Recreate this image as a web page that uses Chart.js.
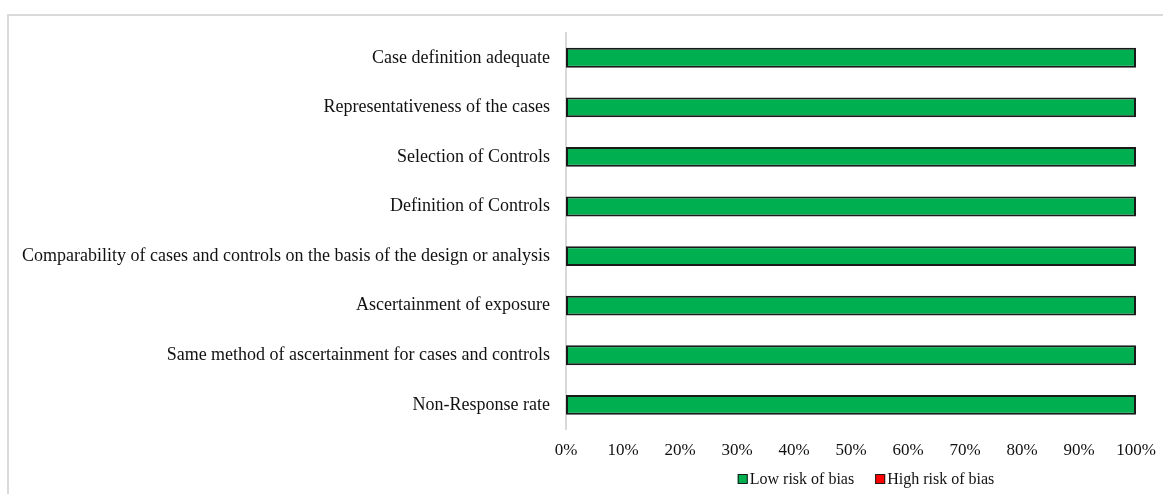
<!DOCTYPE html>
<html>
<head>
<meta charset="utf-8">
<script src="https://cdn.jsdelivr.net/npm/chart.js@4/dist/chart.umd.min.js"></script>
<style>
html,body{margin:0;padding:0;background:#fff;}
#wrap{position:relative;width:1164px;height:494px;overflow:hidden;}
#frame{position:absolute;left:7px;top:14px;width:1156px;height:520px;border-left:2px solid #d9d9d9;border-top:2px solid #d9d9d9;box-sizing:border-box;}
canvas{position:absolute;left:0;top:0;}
</style>
</head>
<body>
<div id="wrap">
<div id="frame"></div>
<canvas id="c" width="1164" height="494"></canvas>
</div>
<script>
const categories = [
  "Case definition adequate",
  "Representativeness of the cases",
  "Selection of Controls",
  "Definition of Controls",
  "Comparability of cases and controls on the basis of the design or analysis",
  "Ascertainment of exposure",
  "Same method of ascertainment for cases and controls",
  "Non-Response rate"
];
const lowRisk = [100, 100, 100, 100, 100, 100, 100, 100];
const highRisk = [0, 0, 0, 0, 0, 0, 0, 0];
const seriesNames = ["Low risk of bias", "High risk of bias"];

const FONT = "'Liberation Serif', 'Times New Roman', serif";

const customLegend = {
  id: 'customLegend',
  afterDraw(chart) {
    const ctx = chart.ctx;
    const ds = chart.data.datasets;
    ctx.save();
    ctx.font = "16px " + FONT;
    ctx.textBaseline = 'middle';
    ctx.textAlign = 'left';
    const box = 10, gapText = 2, gapItem = 21;
    const widths = ds.map(d => box + gapText + ctx.measureText(d.label).width);
    const total = widths.reduce((a, b) => a + b, 0) + gapItem * (ds.length - 1);
    let x = 866 - total / 2;
    const y = 479;
    ds.forEach((d, i) => {
      ctx.fillStyle = d.backgroundColor;
      ctx.fillRect(x, y - box / 2, box, box);
      ctx.strokeStyle = '#1a1a1a';
      ctx.lineWidth = 1;
      ctx.strokeRect(x + 0.5, y - box / 2 + 0.5, box - 1, box - 1);
      ctx.fillStyle = '#111';
      ctx.fillText(d.label, x + box + gapText, y + 1);
      x += widths[i] + gapItem;
    });
    ctx.restore();
  }
};

new Chart(document.getElementById('c'), {
  type: 'bar',
  data: {
    labels: categories,
    datasets: [
      {label: seriesNames[0], data: lowRisk, backgroundColor: '#00b050', borderColor: '#1a1a1a', borderWidth: 2, borderSkipped: false, barPercentage: 0.4, categoryPercentage: 1},
      {label: seriesNames[1], data: highRisk, backgroundColor: '#ff0000', borderColor: '#1a1a1a', borderWidth: 0, barPercentage: 0.4, categoryPercentage: 1}
    ]
  },
  options: {
    indexAxis: 'y',
    responsive: false,
    animation: false,
    layout: {padding: {top: 33, right: 28, left: 0, bottom: 30}},
    plugins: {
      legend: {display: false},
      tooltip: {enabled: false}
    },
    scales: {
      x: {
        stacked: true,
        min: 0, max: 100,
        ticks: {stepSize: 10, callback: v => v + '%', font: {family: FONT, size: 17}, color: '#111', maxRotation: 0, padding: 3},
        grid: {display: false},
        border: {display: false}
      },
      y: {
        stacked: true,
        ticks: {font: {family: FONT, size: 18}, color: '#111', padding: 8},
        grid: {display: false},
        border: {display: true, color: '#d9d9d9', width: 2},
        afterFit(scale) { scale.width = 566; }
      }
    }
  },
  plugins: [customLegend]
});
</script>
</body>
</html>
